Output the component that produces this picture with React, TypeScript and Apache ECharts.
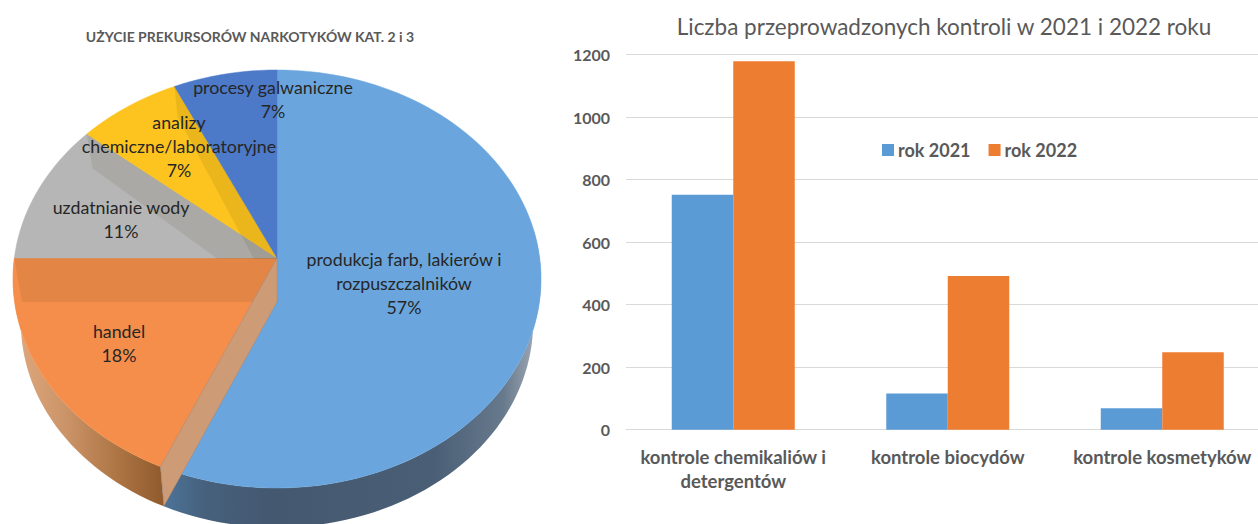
import React, { useEffect, useRef } from "react";
import * as echarts from "echarts";

const pieNames = ["produkcja farb, lakierów i\nrozpuszczalników", "handel", "uzdatnianie wody", "analizy\nchemiczne/laboratoryjne", "procesy galwaniczne"];
const pieValues = [56.6, 18.4, 11, 7, 7];
const piePercents = ["57%", "18%", "11%", "7%", "7%"];
const barCategories = ["kontrole chemikaliów i\ndetergentów", "kontrole biocydów", "kontrole kosmetyków"];
const values2021 = [752, 116, 69];
const values2022 = [1179, 492, 248];
const yTicks = { min: 0, max: 1200, interval: 200 };

const faceColors = ["#6aa6dd", "#f58e4b", "#b6b6b6", "#fdc41f", "#4c79c8"];
const labelSpots = [[404, 283], [119, 343], [121, 219], [179, 146], [273, 99]];

const FONT = "Lato, Carlito, sans-serif";
const CX = 277, CY = 258, AX = 262.7, BY = 206.9, K = 0.1005;
const total = pieValues.reduce((a, b) => a + b, 0);
const startOf = (i: number) => (pieValues.slice(0, i).reduce((a, b) => a + b, 0) / total) * 360;

// circle -> tilted perspective disc
function rim(deg: number) {
  const t = (deg * Math.PI) / 180;
  const u = Math.sin(t), v = -Math.cos(t), d = 1 - K * v;
  return [(AX * u) / d, (BY * v) / d];
}
const topPt = (deg: number) => { const [x, y] = rim(deg); return [CX + x, CY + y]; };
const lowPt = (deg: number) => {
  const [x, y] = rim(deg);
  return [CX + x * 0.97, CY + 44 + y * (y < 0 ? 1.08 : 0.98)];
};
function arc(a: number, b: number, fn: (d: number) => number[]) {
  const n = Math.max(2, Math.ceil(Math.abs(b - a) / 2));
  const out: number[][] = [];
  for (let i = 0; i <= n; i++) out.push(fn(a + ((b - a) * i) / n));
  return out;
}

const wallGradients: any[] = [
  [[0, "#4d7599"], [0.12, "#46607c"], [0.3, "#44586f"], [0.72, "#4a5f76"], [0.9, "#67798c"], [1, "#a6afb9"]],
  [[0, "#e0a87e"], [0.35, "#cb9468"], [0.7, "#ad7443"], [1, "#8f5a2d"]],
];

function renderWall(params: any) {
  const i = params.dataIndex;
  if (i > 1) return { type: "group", children: [] };
  const a = Math.max(startOf(i), 82), b = Math.min(startOf(i + 1), 270);
  const pts = arc(a, b, topPt).concat(arc(b, a, lowPt));
  const stops = wallGradients[i].map(([offset, color]: any) => ({ offset, color }));
  return {
    type: "polygon",
    shape: { points: pts },
    style: { fill: new echarts.graphic.LinearGradient(0, 0, 1, 0, stops) },
  };
}
function renderFace(params: any) {
  const i = params.dataIndex;
  const pts = [[CX, CY], ...arc(startOf(i), startOf(i + 1), topPt)];
  return { type: "polygon", shape: { points: pts }, style: { fill: faceColors[i], stroke: faceColors[i], lineWidth: 0.5 } };
}
// inner cut faces seen through the translucent disc
function renderCut(params: any) {
  const i = params.dataIndex;
  if (i === 0 || i === 4) return { type: "group", children: [] };
  const deg = startOf(i + 1);
  const t = topPt(deg), l = lowPt(deg);
  const ax = CX, ay = CY + 44;
  const limit = CY + 1;
  let pts: number[][];
  if (l[1] < limit) {
    const f = (limit - l[1]) / (ay - l[1]);
    pts = [[CX, CY], t, l, [l[0] + (ax - l[0]) * f, limit], [CX, limit]];
  } else {
    pts = [[CX, CY], t, l, [ax, ay]];
  }
  return { type: "polygon", shape: { points: pts }, style: { fill: "rgba(60,40,0,0.09)" } };
}
// the cut between the first slice and the second, drawn over everything
function renderFrontCut(params: any) {
  if (params.dataIndex !== 0) return { type: "group", children: [] };
  const deg = startOf(1);
  return {
    type: "polygon",
    shape: { points: [[CX, CY], topPt(deg), lowPt(deg), [CX, CY + 44]] },
    style: { fill: "#cd9b76", stroke: "rgba(150,130,120,0.6)", lineWidth: 0.6 },
  };
}
function renderLabel(params: any) {
  const i = params.dataIndex;
  const [x, y] = labelSpots[i];
  return {
    type: "text",
    style: {
      text: pieNames[i] + "\n" + piePercents[i],
      x, y, align: "center", verticalAlign: "middle",
      fill: "#262626", fontFamily: FONT, fontSize: 17.8, lineHeight: 24,
    },
  };
}

const pieData = pieValues.map((v, i) => ({ name: pieNames[i], value: v }));
const layer = (renderItem: any, z: number) => ({ type: "custom", coordinateSystem: "none", renderItem, data: pieData, z, silent: true, clip: false });

export default function App() {
  const ref = useRef<HTMLDivElement>(null);
  useEffect(() => {
    document.body.style.margin = "0";
    const chart = echarts.init(ref.current!, null, { renderer: "svg" });
    chart.setOption({
      animation: false,
      backgroundColor: "#ffffff",
      textStyle: { fontFamily: FONT },
      title: [
        { text: "UŻYCIE PREKURSORÓW NARKOTYKÓW KAT. 2 i 3", left: 245, top: 24, textAlign: "center",
          textStyle: { fontFamily: FONT, fontSize: 14, fontWeight: "bold", color: "#595959" } },
        { text: "Liczba przeprowadzonych kontroli w 2021 i 2022 roku", left: 939, top: 10, textAlign: "center",
          textStyle: { fontFamily: FONT, fontSize: 22.5, fontWeight: "normal", color: "#595959" } },
      ],
      legend: {
        data: ["rok 2021", "rok 2022"], left: 882, top: 141, padding: 0, icon: "rect",
        itemWidth: 12, itemHeight: 12, itemGap: 18,
        textStyle: { fontFamily: FONT, fontSize: 18, fontWeight: "bold", color: "#595959", padding: [0, 0, 0, -1] },
      },
      grid: { left: 626, top: 54.7, width: 643.5, height: 375, containLabel: false },
      xAxis: {
        type: "category", data: barCategories,
        axisLine: { lineStyle: { color: "#d9d9d9" } }, axisTick: { show: false },
        axisLabel: { interval: 0, margin: 15, fontFamily: FONT, fontSize: 18.5, fontWeight: "bold", color: "#595959", lineHeight: 24 },
      },
      yAxis: {
        type: "value", ...yTicks,
        axisLine: { show: false }, axisTick: { show: false },
        splitLine: { lineStyle: { color: "#d9d9d9" } },
        axisLabel: { margin: 16, fontFamily: FONT, fontSize: 16, fontWeight: "bold", color: "#595959", formatter: (v: number) => String(v) },
      },
      series: [
        { name: "rok 2021", type: "bar", data: values2021, barWidth: 61.5, barGap: 0, itemStyle: { color: "#5b9bd5" } },
        { name: "rok 2022", type: "bar", data: values2022, barWidth: 61.5, barGap: 0, itemStyle: { color: "#ed7d31" } },
        layer(renderWall, 3),
        layer(renderFace, 4),
        layer(renderCut, 5),
        layer(renderFrontCut, 6),
        layer(renderLabel, 7),
      ],
    });
    return () => chart.dispose();
  }, []);
  return (
    <div style={{ position: "fixed", left: 0, top: 0, width: 1258, height: 524, overflow: "hidden" }}>
      <div ref={ref} style={{ width: 1300, height: 524 }} />
    </div>
  );
}
